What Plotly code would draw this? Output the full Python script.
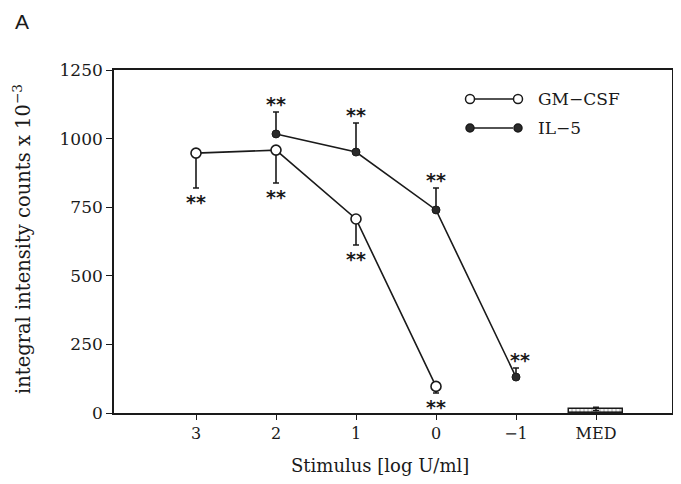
import plotly.graph_objects as go

# ---- data ----
stimulus_labels = ["3", "2", "1", "0", "\u22121", "MED"]

gm_labels = ["3", "2", "1", "0"]
gm_values = [947, 958, 707, 97]
gm_err_minus = [127, 120, 95, 24]

il5_labels = ["2", "1", "0", "\u22121"]
il5_values = [1017, 951, 740, 131]
il5_err_plus = [80, 106, 80, 33]

med_value = [15]
med_err = [6]

pos = {lab: i for i, lab in enumerate(stimulus_labels)}
gm_x = [pos[l] for l in gm_labels]
il5_x = [pos[l] for l in il5_labels]

FONT = "DejaVu Serif"
INK = "#1a1a1a"
STAR_FONT = dict(family="DejaVu Sans", size=19, color=INK)

# page offset (body margin) and figure size that fits the window
OFF = 8
W, H = 681 - 2 * OFF, 484 - 2 * OFF
# plot-area in screen pixels
SL, SR, ST, SB = 114, 672, 70, 413
L, R, T, Bm = SL - OFF, SR - OFF, ST - OFF, SB - OFF

def px(xs): return (xs - SL) / (SR - SL)
def py(ys): return (SB - ys) / (SB - ST)

# x range so that category "3" sits at screen x=196 with 80 px spacing
x_lo = -(196 - SL) / 80.0
x_hi = (SR - 196) / 80.0

fig = go.Figure()

fig.add_trace(go.Scatter(
    x=gm_x, y=gm_values, mode="lines+markers", name="GM-CSF",
    line=dict(color=INK, width=1.6),
    marker=dict(symbol="circle", size=10, color="white", line=dict(color=INK, width=1.6)),
    error_y=dict(type="data", symmetric=False, array=[0] * len(gm_values),
                 arrayminus=gm_err_minus, color=INK, thickness=1.6, width=3),
    showlegend=False,
))

fig.add_trace(go.Scatter(
    x=il5_x, y=il5_values, mode="lines+markers", name="IL-5",
    line=dict(color=INK, width=1.6),
    marker=dict(symbol="circle", size=8, color="#2a2a2a", line=dict(color=INK, width=1)),
    error_y=dict(type="data", symmetric=False, array=il5_err_plus,
                 arrayminus=[0] * len(il5_values), color=INK, thickness=1.6, width=3),
    showlegend=False,
))

fig.add_trace(go.Bar(
    x=[pos["MED"]], y=med_value, width=0.68,
    marker=dict(color="white", line=dict(color=INK, width=1.5),
                pattern=dict(shape=".", size=4, solidity=0.6, fgcolor="#444444", bgcolor="white")),
    error_y=dict(type="data", array=med_err, color=INK, thickness=1.5, width=3),
    showlegend=False,
))

# significance stars
ann = []
for xi, v, e in zip(gm_x, gm_values, gm_err_minus):
    ann.append(dict(x=xi, y=v - e, xref="x", yref="y", text="<b>**</b>", showarrow=False,
                    yanchor="middle", yshift=-14, font=STAR_FONT))
for xi, v, e in zip(il5_x, il5_values, il5_err_plus):
    ann.append(dict(x=xi, y=v + e, xref="x", yref="y", text="<b>**</b>", showarrow=False,
                    yanchor="middle", yshift=8, xshift=(4 if xi == pos["\u22121"] else 0),
                    font=STAR_FONT))

ann.append(dict(x=px(22), y=py(21), xref="paper", yref="paper", text="A",
                showarrow=False, xanchor="center", yanchor="middle",
                font=dict(family="Liberation Sans", size=21, color=INK)))

# custom legend
shapes = []
leg_rows = [("GM\u2212CSF", 99, "white", 9), ("IL\u22125", 128, "#2a2a2a", 8)]
for text, yy, fill, sz in leg_rows:
    shapes.append(dict(type="line", xref="paper", yref="paper",
                       x0=px(474), x1=px(513), y0=py(yy), y1=py(yy),
                       line=dict(color=INK, width=1.6)))
    for cx in (470, 518):
        shapes.append(dict(type="circle", xref="paper", yref="paper",
                           xsizemode="pixel", ysizemode="pixel",
                           xanchor=px(cx), yanchor=py(yy),
                           x0=-sz / 2, x1=sz / 2, y0=-sz / 2, y1=sz / 2,
                           fillcolor=fill, line=dict(color=INK, width=1.5)))
    ann.append(dict(x=px(536), y=py(yy), xref="paper", yref="paper", text=text,
                    showarrow=False, xanchor="left", yanchor="middle",
                    font=dict(family=FONT, size=17, color=INK)))

# axis titles
ann.append(dict(x=px(380), y=py(466), xref="paper", yref="paper",
                text="Stimulus [log U/ml]", showarrow=False, xanchor="center", yanchor="middle",
                font=dict(family=FONT, size=18, color=INK)))
ann.append(dict(x=px(22), y=py(239), xref="paper", yref="paper", textangle=-90,
                text="integral intensity counts x 10<sup>\u22123</sup>", showarrow=False,
                xanchor="center", yanchor="middle",
                font=dict(family=FONT, size=19.5, color=INK)))

fig.update_layout(
    width=W, height=H,
    margin=dict(l=L, r=W - R, t=T, b=H - Bm, autoexpand=False),
    paper_bgcolor="white", plot_bgcolor="white",
    font=dict(family=FONT, size=14, color=INK),
    annotations=ann, shapes=shapes,
    bargap=0,
)

fig.update_xaxes(
    range=[x_lo, x_hi], tickmode="array", tickvals=list(range(len(stimulus_labels))),
    ticktext=stimulus_labels, ticks="outside", ticklen=5, tickwidth=1.3, tickcolor=INK,
    showline=True, linecolor=INK, linewidth=1.6, mirror=True, showgrid=False, zeroline=False,
    tickfont=dict(family=FONT, size=16, color=INK), automargin=False,
)
fig.update_yaxes(
    range=[0, 1250], tickvals=[0, 250, 500, 750, 1000, 1250],
    ticks="outside", ticklen=6, tickwidth=1.3, tickcolor=INK,
    showline=True, linecolor=INK, linewidth=1.6, mirror=True, showgrid=False, zeroline=False,
    tickfont=dict(family=FONT, size=17, color=INK), automargin=False,
)

fig.write_html("out.html")
